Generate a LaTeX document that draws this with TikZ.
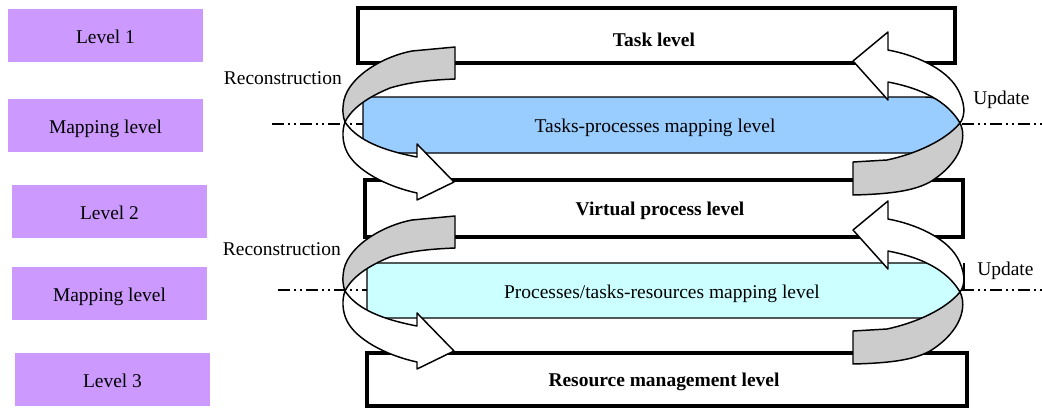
\documentclass[tikz,border=0pt]{standalone}
\usepackage{fontspec}
\setmainfont{Liberation Serif}
\definecolor{lvlpurple}{HTML}{CC99FF}
\definecolor{mapblue}{HTML}{99CCFF}
\definecolor{mapcyan}{HTML}{CCFFFF}
\definecolor{ribgray}{HTML}{CCCCCC}
\begin{document}
\begin{tikzpicture}[x=0.75pt,y=-0.75pt,
  every node/.style={font=\fontsize{14.6}{17}\selectfont, inner sep=0pt},
  lvl/.style={fill=lvlpurple, minimum width=146.25pt, minimum height=39.75pt, text height=12pt, text depth=0pt},
  mainbox/.style={draw=black, line width=2.4pt, fill=white, font=\fontsize{14.6}{17}\selectfont\bfseries},
  mapshape/.style={draw=black, line width=1.1pt},
  dashdot/.style={line width=1.3pt, dash pattern=on 9pt off 3pt on 1.5pt off 3pt on 1.5pt off 3pt},
  ribbon/.style={draw=black, line width=1.1pt, line join=round},
  lbl/.style={anchor=center}]
\useasboundingbox (0,0) rectangle (1042,408);

% left level labels
\node[lvl] (l1) at (105.5,35.5) {Level 1};
\node[lvl] (m1) at (105.5,125.5) {Mapping level};
\node[lvl] (l2) at (109.5,211.5) {Level 2};
\node[lvl] (m2) at (109.5,293.5) {Mapping level};
\node[lvl] (l3) at (112.5,379.5) {Level 3};

% main level boxes
\node[mainbox, minimum width=447.75pt, minimum height=41.25pt] (task) at (656.5,35.5) {};
\node[font=\fontsize{14.6}{17}\selectfont\bfseries] (tasktxt) at (654,40) {Task level};
\node[mainbox, minimum width=448.5pt, minimum height=42.75pt] (virt) at (664,208.5) {};
\node[font=\fontsize{14.6}{17}\selectfont\bfseries] (virttxt) at (660,211) {Virtual process level};
\node[mainbox, minimum width=450pt, minimum height=39.75pt] (res) at (667,379.5) {};
\node[font=\fontsize{14.6}{17}\selectfont\bfseries] (restxt) at (664,382) {Resource management level};

% mapping shapes
\draw[mapshape, fill=mapblue] (363,97) -- (925,97) .. controls (948,97) and (960,112) .. (960,125)
   .. controls (960,138) and (948,153) .. (925,153) -- (363,153) -- cycle;
\node (tpm) at (655,128) {Tasks-processes mapping level};
\draw[line width=1.1pt] (964,263) -- (964,290);
\draw[mapshape, fill=mapcyan] (367,263) -- (927,263) .. controls (948,263) and (960,278) .. (960,290)
   .. controls (960,303) and (948,318) .. (927,318) -- (367,318) -- cycle;
\node (ptrm) at (662,294) {Processes/tasks-resources mapping level};

% dash-dot lines
\coordinate (dl1a) at (272,124); \coordinate (dl1b) at (363,124);
\coordinate (dr1a) at (962,124); \coordinate (dr1b) at (1042,124);
\coordinate (dl2a) at (278,290); \coordinate (dl2b) at (367,290);
\coordinate (dr2a) at (962,290); \coordinate (dr2b) at (1042,290);
\draw[dashdot] (dl1a) -- (dl1b);
\draw[dashdot] (dr1a) -- (dr1b);
\draw[dashdot] (dl2a) -- (dl2b);
\draw[dashdot] (dr2a) -- (dr2b);

% labels
\node[anchor=east] (rec1) at (342,78) {Reconstruction};
\node[anchor=east] (rec2) at (341,249) {Reconstruction};
\node[anchor=west] (upd1) at (973,100) {Update};
\node[anchor=west] (upd2) at (977,271) {Update};

% twisted ribbons
\foreach \dy in {0,169}{
\begin{scope}[shift={(0,\dy)}]
  % left gray (back side)
  \draw[ribbon, fill=ribgray] (455,47) -- (412,51) .. controls (385,56) and (350,75) .. (344,100)
     .. controls (342,110) and (343,117) .. (345,122)
     .. controls (352,108) and (368,97) .. (390,88) .. controls (410,82) and (430,80) .. (455,79) -- cycle;
  % left white arrow
  \draw[ribbon, fill=white] (345,122) .. controls (355,137) and (375,149) .. (417,157) -- (417,144) -- (454,182)
     -- (417,200) -- (417,193) .. controls (385,186) and (356,170) .. (347,152)
     .. controls (342,142) and (342,130) .. (345,122) -- cycle;
  % right white arrow
  \draw[ribbon, fill=white] (853,61) -- (888,32) -- (888,50) .. controls (915,55) and (945,68) .. (957,88)
     .. controls (965,102) and (966,115) .. (960,123)
     .. controls (950,106) and (930,90) .. (888,82) -- (888,100) -- cycle;
  % right gray (back side)
  \draw[ribbon, fill=ribgray] (960,123) .. controls (967,137) and (962,162) .. (930,182)
     .. controls (915,190) and (895,194) .. (853,195) -- (853,162) -- (887,160)
     .. controls (915,154) and (945,141) .. (960,123) -- cycle;
\end{scope}}
\end{tikzpicture}
\end{document}
